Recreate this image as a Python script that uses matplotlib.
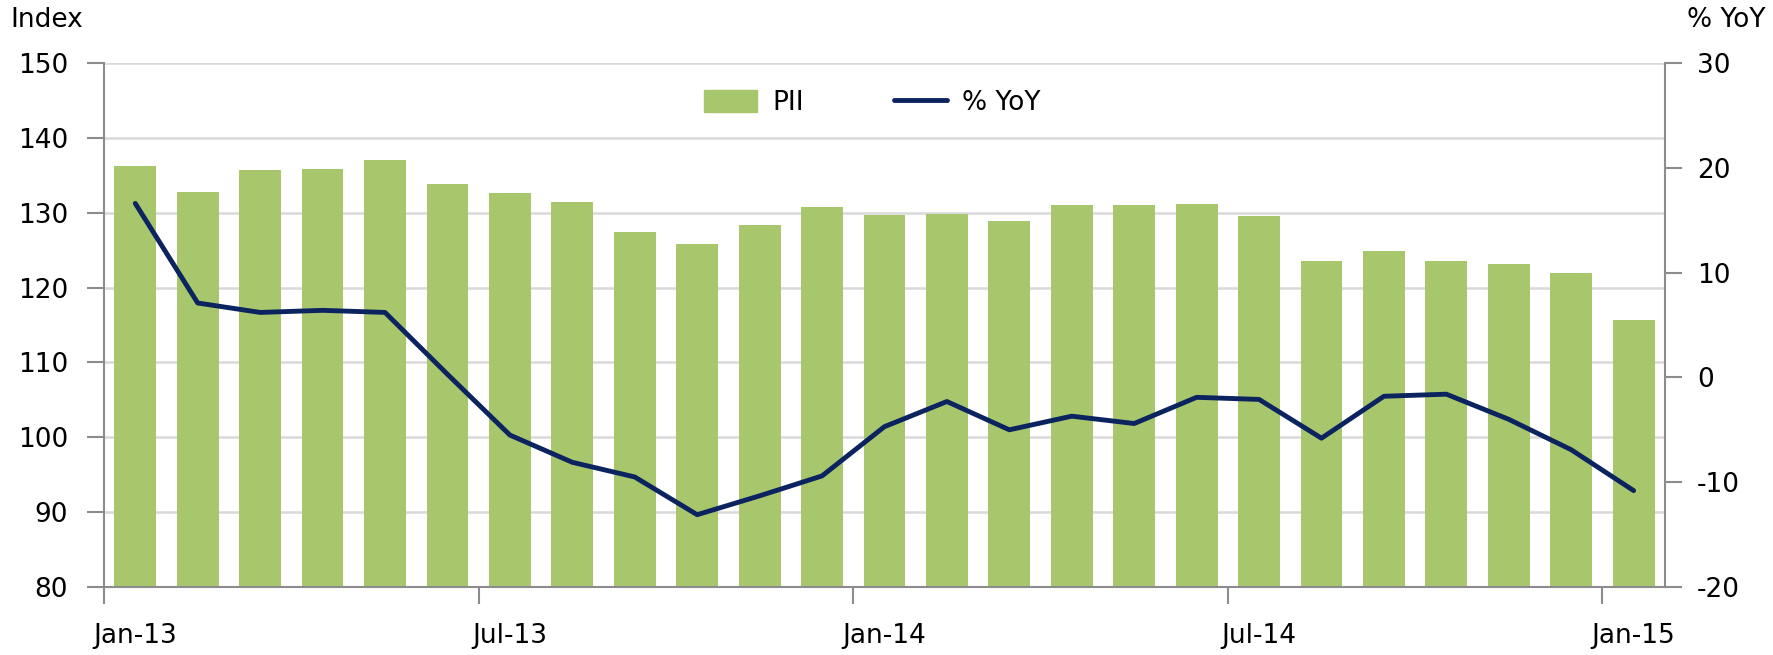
import numpy as np
import matplotlib.pyplot as plt
from matplotlib.patches import Patch
from matplotlib.lines import Line2D

plt.rcParams['font.family'] = ['DejaVu Sans']
plt.rcParams['axes.unicode_minus'] = False

# 월별 데이터 (Jan-13 ~ Jan-15)
months = ['Jan-13', 'Feb-13', 'Mar-13', 'Apr-13', 'May-13', 'Jun-13',
          'Jul-13', 'Aug-13', 'Sep-13', 'Oct-13', 'Nov-13', 'Dec-13',
          'Jan-14', 'Feb-14', 'Mar-14', 'Apr-14', 'May-14', 'Jun-14',
          'Jul-14', 'Aug-14', 'Sep-14', 'Oct-14', 'Nov-14', 'Dec-14',
          'Jan-15']
pii = [136.2, 132.8, 135.7, 135.9, 137.0, 133.8, 132.6, 131.4, 127.4, 125.8,
       128.4, 130.8, 129.7, 129.8, 128.9, 131.0, 131.0, 131.1, 129.6, 123.6,
       124.9, 123.5, 123.2, 121.9, 115.7]
yoy = [16.6, 7.1, 6.2, 6.4, 6.2, 0.3, -5.5, -8.1, -9.5, -13.1, -11.3, -9.4,
       -4.7, -2.3, -5.0, -3.7, -4.4, -1.9, -2.1, -5.8, -1.8, -1.6, -4.0, -6.9,
       -10.8]
label_months = ['Jan-13', 'Jul-13', 'Jan-14', 'Jul-14', 'Jan-15']

bar_color = '#A8C66C'
line_color = '#0B2460'
axis_color = '#8C8C8C'
fs = 19

x = np.arange(len(months))

fig = plt.figure(figsize=(17.73, 6.55), dpi=100)
ax = fig.add_axes([0.0587, 0.1038, 0.8803, 0.8000])

ax.bar(x, pii, width=0.67, color=bar_color, linewidth=0, zorder=2)
ax.set_ylim(80, 150)
ax.set_yticks(np.arange(80, 151, 10))
ax.set_xlim(-0.5, len(months) - 0.5)
ax.yaxis.grid(True, color='#D9D9D9', linewidth=1.8, zorder=0)
ax.set_axisbelow(True)

# 눈금: 구간 경계에 틱, 라벨은 막대 중앙
lab_pos = [months.index(m) for m in label_months]
ax.set_xticks([p - 0.5 for p in lab_pos])
ax.set_xticklabels([])
ax.set_xticks(lab_pos, minor=True)
ax.set_xticklabels(label_months, minor=True)
ax.tick_params(axis='x', which='major', length=12, width=1.5, color=axis_color)
ax.tick_params(axis='x', which='minor', length=0, pad=26, labelsize=fs)
ax.tick_params(axis='y', length=12, width=1.5, color=axis_color, pad=14, labelsize=fs)

for s in ['top', 'right']:
    ax.spines[s].set_visible(False)
for s in ['left', 'bottom']:
    ax.spines[s].set_color(axis_color)
    ax.spines[s].set_linewidth(1.5)

ax2 = ax.twinx()
ax2.plot(x, yoy, color=line_color, linewidth=3.5, solid_capstyle='round',
         solid_joinstyle='round', zorder=3)
ax2.set_ylim(-20, 30)
ax2.set_yticks(np.arange(-20, 31, 10))
ax2.tick_params(axis='y', length=12, width=1.5, color=axis_color, pad=11, labelsize=fs)
for s in ['top', 'left', 'bottom']:
    ax2.spines[s].set_visible(False)
ax2.spines['right'].set_color(axis_color)
ax2.spines['right'].set_linewidth(1.5)

fig.text(0.006, 0.97, 'Index', fontsize=fs, ha='left', va='center')
fig.text(0.996, 0.97, '% YoY', fontsize=fs, ha='right', va='center')

handles = [Patch(color=bar_color, label='PII'),
           Line2D([0], [0], color=line_color, linewidth=3.5, solid_capstyle='round', label='% YoY')]
fig.legend(handles=handles, loc='center', bbox_to_anchor=(0.492, 0.843), ncol=2,
           frameon=False, fontsize=fs, handlelength=2.0, handleheight=0.9,
           handletextpad=0.6, columnspacing=3.4)

fig.savefig('out.png', dpi=100, facecolor='white')
